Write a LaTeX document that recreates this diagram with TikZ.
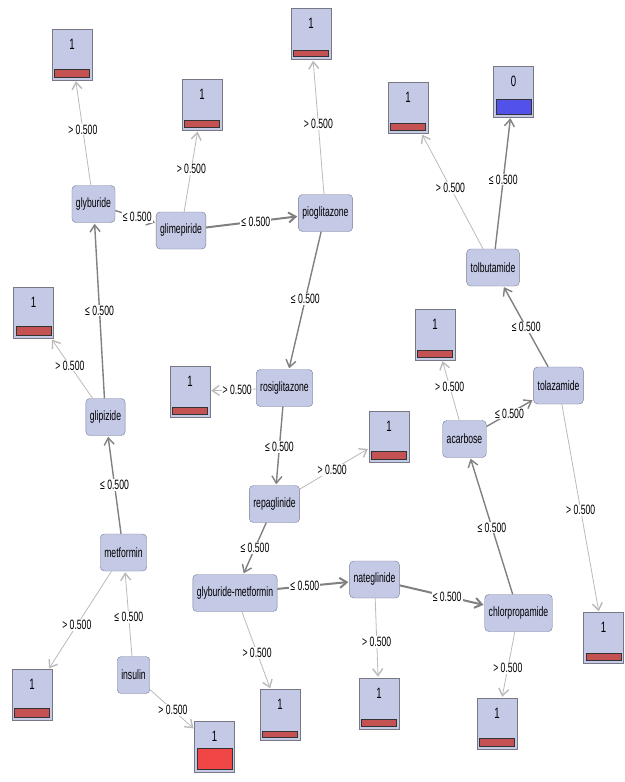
\documentclass[tikz,border=0pt]{standalone}
\usepackage{fontspec}
\setmainfont{Liberation Sans}[FakeStretch=0.64]
\usetikzlibrary{arrows.meta}

\definecolor{nodefill}{RGB}{196,201,230}
\definecolor{nodeedge}{RGB}{118,123,150}
\definecolor{leafedge}{RGB}{120,120,132}
\definecolor{redbar}{RGB}{196,82,82}
\definecolor{hotbar}{RGB}{240,70,70}
\definecolor{bluebar}{RGB}{82,82,235}

\tikzset{
	attr/.style = {rectangle, rounded corners=4pt, draw=nodeedge, fill=nodefill, minimum height=37pt, inner xsep=4pt, font=\fontsize{13.5}{15}\selectfont},
	leaf/.style 2 args = {rectangle, draw=leafedge, fill=nodefill, minimum width=40pt, inner sep=0pt, text height=20pt, text depth=31pt, font=\fontsize{15}{17}\selectfont,
		path picture={\draw[fill=#1, draw=black!80, line width=0.8pt] ([xshift=2.5pt,yshift=3pt]path picture bounding box.south west) rectangle ([xshift=-2.5pt,yshift=3pt+#2]path picture bounding box.south east);}},
	le/.style = {draw=black!50, line width=1.4pt, -{Straight Barb[length=7pt, width=10pt]}},
	gt/.style = {draw=black!27, line width=0.8pt, -{Straight Barb[length=7pt, width=10pt, line width=1.4pt]}},
	lbl/.style = {fill=white, inner sep=1pt, font=\fontsize{13.5}{15}\selectfont}
}

\begin{document}
\begin{tikzpicture}[x=1pt, y=-1pt, shorten >=1pt, draw=black!50]
	\useasboundingbox (0,0) rectangle (624,782);
	% attribute nodes
	\node (glyb) at (93.5, 204)	[attr]	{glyburide};
	\node (glim) at (181, 230.5)	[attr]	{glimepiride};
	\node (piog) at (325.5, 213)	[attr]	{pioglitazone};
	\node (tolb) at (493, 267.5)	[attr]	{tolbutamide};
	\node (glip) at (105.5, 417)	[attr]	{glipizide};
	\node (rosi) at (284.5, 388)	[attr]	{rosiglitazone};
	\node (tolz) at (558.5, 385.5)	[attr]	{tolazamide};
	\node (acar) at (464.5, 439)	[attr]	{acarbose};
	\node (repa) at (274.5, 504)	[attr]	{repaglinide};
	\node (metf) at (123.5, 552.5)	[attr]	{metformin};
	\node (insu) at (133.5, 675)	[attr]	{insulin};
	\node (gmet) at (235, 593)	[attr]	{glyburide-metformin};
	\node (nate) at (374.5, 579.5)	[attr]	{nateglinide};
	\node (chlo) at (518.5, 613)	[attr]	{chlorpropamide};
	% leaves
	\node (L1) at (72, 54.5)	[leaf={redbar}{8pt}]	{1};
	\node (L2) at (202, 105)	[leaf={redbar}{7pt}]	{1};
	\node (L3) at (311, 34)	[leaf={redbar}{6.5pt}]	{1};
	\node (L4) at (408, 108)	[leaf={redbar}{7pt}]	{1};
	\node (L5) at (513.5, 91.5)	[leaf={bluebar}{15pt}]	{0};
	\node (L6) at (33.5, 313)	[leaf={redbar}{9pt}]	{1};
	\node (L7) at (190, 391.5)	[leaf={redbar}{7pt}]	{1};
	\node (L8) at (435, 334.5)	[leaf={redbar}{7pt}]	{1};
	\node (L9) at (389, 436.5)	[leaf={redbar}{8pt}]	{1};
	\node (L10) at (32, 695)	[leaf={redbar}{9pt}]	{1};
	\node (L11) at (214.5, 747)	[leaf={hotbar}{21pt}]	{1};
	\node (L12) at (280, 715)	[leaf={redbar}{6.5pt}]	{1};
	\node (L13) at (379, 703.5)	[leaf={redbar}{7pt}]	{1};
	\node (L14) at (497, 723.5)	[leaf={redbar}{8pt}]	{1};
	\node (L15) at (603.5, 638)	[leaf={redbar}{7pt}]	{1};
	% splits
	\draw[gt] (insu) -- node[lbl, pos=0.46] {≤ 0.500} (metf);
	\draw[gt] (insu) -- node[lbl, pos=0.52] {> 0.500} (L11);
	\draw[le] (metf) -- node[lbl, pos=0.5] {≤ 0.500} (glip);
	\draw[gt] (metf) -- node[lbl, pos=0.55] {> 0.500} (L10);
	\draw[le] (glip) -- node[lbl, pos=0.5] {≤ 0.500} (glyb);
	\draw[gt] (glip) -- node[lbl, pos=0.55] {> 0.500} (L6);
	\draw[le] (glyb) -- node[lbl, pos=0.54] {≤ 0.500} (glim);
	\draw[gt] (glyb) -- node[lbl, pos=0.53] {> 0.500} (L1);
	\draw[le, line width=2pt] (glim) -- node[lbl, pos=0.54] {≤ 0.500} (piog);
	\draw[gt] (glim) -- node[lbl, pos=0.53] {> 0.500} (L2);
	\draw[le] (piog) -- node[lbl, pos=0.49] {≤ 0.500} (rosi);
	\draw[gt] (piog) -- node[lbl, pos=0.52] {> 0.500} (L3);
	\draw[le] (rosi) -- node[lbl, pos=0.515] {≤ 0.500} (repa);
	\draw[gt] (rosi) -- node[lbl, pos=0.41] {> 0.500} (L7);
	\draw[le] (repa) -- node[lbl, pos=0.49] {≤ 0.500} (gmet);
	\draw[gt] (repa) -- node[lbl, pos=0.47] {> 0.500} (L9);
	\draw[le, line width=2pt] (gmet) -- node[lbl, pos=0.38] {≤ 0.500} (nate);
	\draw[gt] (gmet) -- node[lbl, pos=0.53] {> 0.500} (L12);
	\draw[le, line width=2pt] (nate) -- node[lbl, pos=0.56] {≤ 0.500} (chlo);
	\draw[gt] (nate) -- node[lbl, pos=0.55] {> 0.500} (L13);
	\draw[le] (chlo) -- node[lbl, pos=0.49] {≤ 0.500} (acar);
	\draw[gt] (chlo) -- node[lbl, pos=0.55] {> 0.500} (L14);
	\draw[le] (acar) -- node[lbl, pos=0.49] {≤ 0.500} (tolz);
	\draw[gt] (acar) -- node[lbl, pos=0.56] {> 0.500} (L8);
	\draw[le] (tolz) -- node[lbl, pos=0.49] {≤ 0.500} (tolb);
	\draw[gt] (tolz) -- node[lbl, pos=0.51] {> 0.500} (L15);
	\draw[le] (tolb) -- node[lbl, pos=0.525] {≤ 0.500} (L5);
	\draw[gt] (tolb) -- node[lbl, pos=0.53] {> 0.500} (L4);
\end{tikzpicture}
\end{document}
